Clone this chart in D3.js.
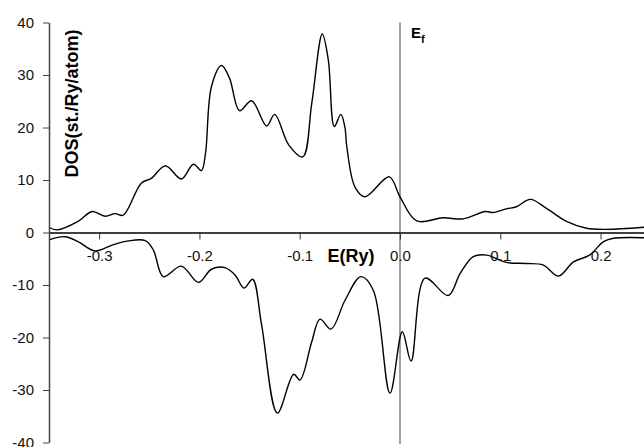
<!DOCTYPE html>
<html lang="en">
  <head>
    <meta charset="utf-8">
    <script src="https://cdn.jsdelivr.net/npm/d3@7"></script>
    <style>
      body{ margin:0; background:#fff; }
      svg{ display:block; font-family:"Liberation Sans", Arial, Helvetica, sans-serif; }
      .tick text{ font-size:15px; fill:#111; }
    </style>
  </head>
  <body>
    <svg></svg>
  </body>
  <script>

    // spin-up DOS (upper curve)
    var energyUp = [-0.350,-0.342,-0.321,-0.307,-0.294,-0.284,-0.276,-0.258,-0.248,-0.234,
                    -0.218,-0.206,-0.198,-0.194,-0.188,-0.178,-0.170,-0.160,-0.148,-0.133,-0.125,
                    -0.111,-0.097,-0.088,-0.0775,-0.0715,-0.0655,-0.059,-0.055,-0.053,-0.045,
                    -0.035,-0.0107,0.0,0.0166,0.043,0.063,0.085,0.093,0.106,0.116,
                    0.130,0.146,0.166,0.186,0.206,0.2435];
    var dosUp = [1.0,0.5,2.1,4.0,3.1,3.6,3.3,9.4,10.3,12.7,
                 10.2,13.0,11.8,15.0,27.8,31.8,29.4,23.2,25.1,20.3,22.5,
                 16.7,14.4,24.6,37.8,32.9,20.2,22.5,20.1,16.3,8.7,
                 6.8,10.6,6.8,2.2,2.8,2.6,4.0,3.8,4.5,4.9,
                 6.3,4.6,2.1,0.8,0.6,1.0];

    // spin-down DOS (lower curve)
    var energyDown = [-0.350,-0.334,-0.321,-0.304,-0.287,-0.271,-0.254,-0.246,-0.236,-0.218,
                      -0.201,-0.188,-0.1745,-0.1645,-0.1555,-0.147,-0.138,-0.1223,-0.106,-0.0997,
                      -0.088,-0.0798,-0.0688,-0.0548,-0.0389,-0.0266,-0.010,0.0023,0.011,0.025,
                      0.048,0.060,0.073,0.0864,0.106,0.126,0.143,0.158,0.173,0.189,
                      0.203,0.213,0.2435];
    var dosDown = [-1.4,-0.8,-1.75,-3.5,-2.4,-1.6,-1.55,-3.3,-8.4,-6.4,
                   -9.5,-7.0,-6.7,-8.1,-10.6,-8.9,-17.6,-34.4,-27.0,-28.1,
                   -20.8,-16.5,-18.4,-12.9,-8.4,-11.0,-30.6,-18.9,-24.5,-8.7,
                   -12.0,-7.8,-4.6,-4.3,-5.7,-5.9,-6.2,-8.3,-5.6,-4.3,
                   -1.75,-1.1,-1.0];

    var xTicks = [-0.3,-0.2,-0.1,0.0,0.1,0.2];
    var yTicks = [-40,-30,-20,-10,0,10,20,30,40];
    var fermi = 0.0;

    var svgwidth = 644;
    var svgheight = 447;

    var svg = d3.select('svg')
                .attr('width',svgwidth)
                .attr('height',svgheight);

    var xScale = d3.scaleLinear()
                   .domain([-0.35,0.2433])
                   .range([49,644]);

    var yScale = d3.scaleLinear()
                   .domain([-40,40])
                   .range([442.5,22.5]);

    // Fermi level line
    svg.append('line')
       .attr('x1',xScale(fermi))
       .attr('x2',xScale(fermi))
       .attr('y1',22.5)
       .attr('y2',444)
       .attr('stroke','#808080')
       .attr('stroke-width',1.5);

    var line = d3.line()
                 .x(function(d){ return xScale(d[0]); })
                 .y(function(d){ return yScale(d[1]); })
                 .curve(d3.curveCatmullRom.alpha(0.5));

    var upData = energyUp.map(function(e,i){ return [e,dosUp[i]]; });
    var downData = energyDown.map(function(e,i){ return [e,dosDown[i]]; });

    svg.append('path')
       .datum(upData)
       .attr('d',line)
       .attr('fill','none')
       .attr('stroke','#000')
       .attr('stroke-width',1.4);

    svg.append('path')
       .datum(downData)
       .attr('d',line)
       .attr('fill','none')
       .attr('stroke','#000')
       .attr('stroke-width',1.4);

    // axes
    var xAxis = d3.axisBottom(xScale)
                  .tickValues(xTicks)
                  .tickSize(7)
                  .tickSizeOuter(0)
                  .tickPadding(11)
                  .tickFormat(d3.format('.1f'));

    var gx = svg.append('g')
                .attr('transform','translate(0,'+yScale(0)+')')
                .call(xAxis);
    gx.select('.domain').attr('stroke','#000').attr('stroke-width',1.5);
    gx.selectAll('.tick line').attr('stroke','#333').attr('stroke-width',1);
    gx.selectAll('.tick text').text(function(d){ return d3.format('.1f')(d).replace('−','-'); });

    var yAxis = d3.axisLeft(yScale)
                  .tickValues(yTicks)
                  .tickSize(6)
                  .tickSizeOuter(0)
                  .tickPadding(9);

    var gy = svg.append('g')
                .attr('transform','translate(49,0)')
                .call(yAxis);
    gy.select('.domain').attr('stroke','#444').attr('stroke-width',1.5);
    gy.selectAll('.tick line').attr('stroke','#444');
    gy.selectAll('.tick text').text(function(d){ return String(d); });

    // labels
    svg.append('text')
       .attr('transform','translate(78,103.5) rotate(-90)')
       .attr('text-anchor','middle')
       .style('font-size','18px')
       .style('font-weight','bold')
       .text('DOS(st./Ry/atom)');

    svg.append('text')
       .attr('x',351)
       .attr('y',262)
       .attr('text-anchor','middle')
       .style('font-size','18px')
       .style('font-weight','bold')
       .text('E(Ry)');

    var ef = svg.append('text')
                .attr('x',411)
                .attr('y',38)
                .style('font-size','15px')
                .style('font-weight','bold');
    ef.append('tspan').text('E');
    ef.append('tspan')
      .attr('dy',5)
      .style('font-size','11px')
      .text('f');

  </script>
</html>
